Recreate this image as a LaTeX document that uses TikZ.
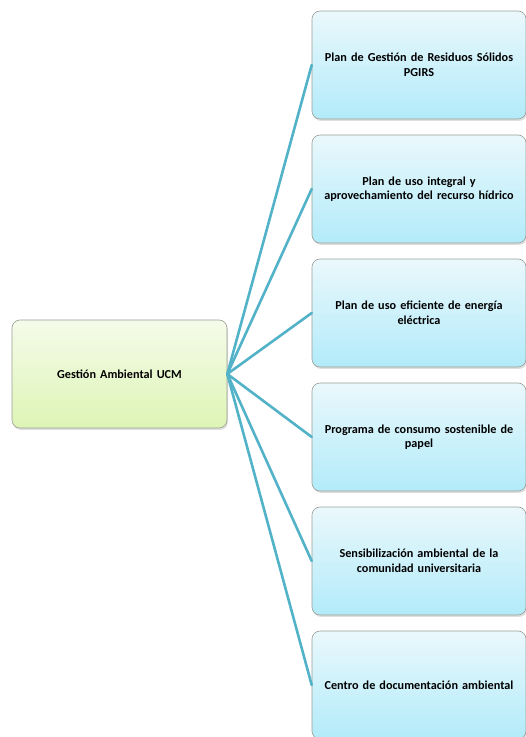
\documentclass[tikz,border=0pt]{standalone}
\usepackage{fontspec}
\setmainfont{Carlito}
\usepackage{xcolor}
\usetikzlibrary{positioning,shadows}
\definecolor{limetop}{HTML}{F5FBEA}
\definecolor{limebot}{HTML}{DDF5B5}
\definecolor{skytop}{HTML}{EAF8FC}
\definecolor{skybot}{HTML}{B2EBFA}
\definecolor{boxline}{HTML}{9A9E96}
\definecolor{spoke}{HTML}{52B2C8}
\tikzset{
  map diagram/.style={
    font=\fontsize{12.2}{14.5}\selectfont\bfseries,
    line cap=round,
    line join=round
  },
  basebox/.style={
    draw=boxline,
    rounded corners=8pt,
    line width=0.6pt,
    align=center,
    minimum height=108pt,
    inner sep=4pt,
    drop shadow={shadow xshift=1pt,shadow yshift=-2pt,opacity=0.25}
  },
  hubbox/.style={
    basebox,
    top color=limetop,
    bottom color=limebot,
    minimum width=215pt,
    text width=205pt
  },
  planbox/.style={
    basebox,
    top color=skytop,
    bottom color=skybot,
    minimum width=212pt,
    text width=206pt
  },
  spokeline/.style={
    draw=spoke,
    line width=2.6pt
  }
}
\begin{document}
\begin{tikzpicture}[map diagram, node distance=15.4pt]
\useasboundingbox (0pt,0pt) rectangle (526pt,737pt);
\node[hubbox] (hub) at (119.5pt,363pt) {Gestión Ambiental UCM};
\node[planbox] (p1) at (419pt,672pt) {Plan de Gestión de Residuos Sólidos\\PGIRS};
\node[planbox, below=of p1] (p2) {Plan de uso integral y\\aprovechamiento del recurso hídrico};
\node[planbox, below=of p2] (p3) {Plan de uso eficiente de energía\\eléctrica};
\node[planbox, below=of p3] (p4) {Programa de consumo sostenible de\\papel};
\node[planbox, below=of p4] (p5) {Sensibilización ambiental de la\\comunidad universitaria};
\node[planbox, below=of p5] (p6) {Centro de documentación ambiental};

\draw[spokeline] (hub.east) -- (p1.west);
\draw[spokeline] (hub.east) -- (p2.west);
\draw[spokeline] (hub.east) -- (p3.west);
\draw[spokeline] (hub.east) -- (p4.west);
\draw[spokeline] (hub.east) -- (p5.west);
\draw[spokeline] (hub.east) -- (p6.west);
\end{tikzpicture}
\end{document}
